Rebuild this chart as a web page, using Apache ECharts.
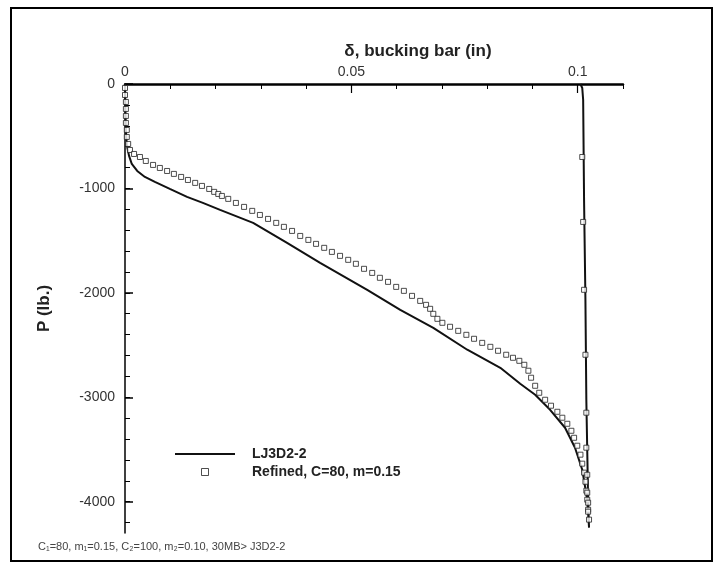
<!DOCTYPE html>
<html>
<head>
<meta charset="utf-8">
<script src="https://cdn.jsdelivr.net/npm/echarts@6/dist/echarts.min.js"></script>
<style>
html,body{margin:0;padding:0;background:#fff;}
#chart{width:721px;height:569px;}
</style>
</head>
<body>
<div id="chart"></div>
<script>
// Tick labels
var xTickLabels = [0, 0.05, 0.1];
var yTickLabels = [-4000, -3000, -2000, -1000, 0];
var yMinorTicks = [-4200, -4000, -3800, -3600, -3400, -3200, -3000, -2800, -2600, -2400, -2200, -2000, -1800, -1600, -1400, -1200, -1000, -800, -600, -400, -200, 0];

// LJ3D2-2 (solid line): displacement (in), load (lb)
var solidX = [0, 0.0001, 0.0002, 0.0004, 0.0009, 0.0015, 0.0027, 0.0044, 0.0066, 0.0099, 0.0137, 0.0172, 0.0210, 0.0283, 0.0358, 0.0431, 0.0535, 0.0608, 0.0681, 0.0756, 0.0829, 0.0873, 0.0906, 0.0939, 0.0972, 0.0994, 0.1010, 0.1021, 0.1025,
              0.1023, 0.1019, 0.1017, 0.1014, 0.1012, 0.1010, 0.1006];
var solidY = [0, -249, -440, -584, -689, -766, -833, -890, -938, -1005, -1081, -1139, -1206, -1330, -1522, -1713, -1971, -2163, -2335, -2545, -2718, -2871, -2976, -3120, -3292, -3483, -3694, -3981, -4249,
              -3981, -3024, -2067, -1110, -153, -38, 0];

// Refined, C=80, m=0.15 (square markers)
var refinedX = [0, 0, 0.0002, 0.0002, 0.0002, 0.0002, 0.0004, 0.0004, 0.0007, 0.0011, 0.0020, 0.0033, 0.0046, 0.0062, 0.0077, 0.0093, 0.0108, 0.0124, 0.0139, 0.0155, 0.0170, 0.0186, 0.0197, 0.0206, 0.0214, 0.0228, 0.0245, 0.0263, 0.0281, 0.0298, 0.0316, 0.0334, 0.0351, 0.0369, 0.0387, 0.0405, 0.0422, 0.0440, 0.0457, 0.0475, 0.0493, 0.0510, 0.0528, 0.0546, 0.0563, 0.0581, 0.0599, 0.0616, 0.0634, 0.0652, 0.0665, 0.0674, 0.0681, 0.0690, 0.0701, 0.0718, 0.0736, 0.0754, 0.0771, 0.0789, 0.0807, 0.0824, 0.0842, 0.0857, 0.0871, 0.0882, 0.0891, 0.0897, 0.0906, 0.0915, 0.0928, 0.0941, 0.0955, 0.0966, 0.0977, 0.0986, 0.0992, 0.0999, 0.1006, 0.1010, 0.1014, 0.1017, 0.1019, 0.1021, 0.1023, 0.1025,
                0.1023, 0.1023, 0.1021, 0.1021, 0.1019, 0.1019, 0.1017, 0.1014, 0.1012, 0.1010];
var refinedY = [-38, -105, -172, -239, -306, -373, -440, -507, -574, -632, -670, -699, -737, -775, -804, -833, -861, -890, -919, -947, -976, -1005, -1033, -1053, -1072, -1100, -1139, -1177, -1215, -1254, -1292, -1330, -1368, -1407, -1455, -1493, -1531, -1569, -1608, -1646, -1684, -1722, -1770, -1809, -1856, -1895, -1943, -1981, -2029, -2077, -2115, -2153, -2201, -2249, -2287, -2325, -2364, -2402, -2440, -2479, -2517, -2555, -2593, -2622, -2651, -2689, -2746, -2813, -2890, -2957, -3024, -3081, -3139, -3196, -3254, -3321, -3388, -3464, -3550, -3636, -3722, -3809, -3895, -3981, -4077, -4172,
                -4096, -4010, -3914, -3742, -3483, -3148, -2593, -1971, -1321, -699];

function zip(a, b) { var r = []; for (var i = 0; i < a.length; i++) r.push([a[i], b[i]]); return r; }

var chart = echarts.init(document.getElementById('chart'), null, {renderer: 'canvas'});
var font = '"Liberation Sans", Arial, Helvetica, sans-serif';
var option = {
  animation: false,
  backgroundColor: '#fff',
  grid: {left: 125, top: 84, width: 498, height: 449, containLabel: false, outerBoundsMode: 'none'},
  legend: {
    left: 170, top: 442, orient: 'vertical',
    itemWidth: 60, itemHeight: 7, itemGap: 4,
    symbolKeepAspect: true,
    textStyle: {fontFamily: font, fontSize: 14, fontWeight: 'bold', color: '#222', padding: [0, 0, 0, 12]},
    data: [
      {name: 'LJ3D2-2', icon: 'path://M0,0H60V2H0Z', itemStyle: {color: '#111', borderWidth: 0}},
      {name: 'Refined, C=80, m=0.15', icon: 'path://M0,0H10V10H0Z', itemStyle: {color: '#fff', borderColor: '#222', borderWidth: 1}}
    ]
  },
  xAxis: [{
    type: 'value', position: 'top', min: 0, max: 0.11, interval: 0.01,
    name: 'δ, bucking bar (in)', nameLocation: 'middle', nameGap: 24,
    nameTextStyle: {fontFamily: font, fontSize: 17, fontWeight: 'bold', color: '#222', padding: [0, 0, 0, 88]},
    axisLine: {show: true, onZero: false, lineStyle: {color: '#000', width: 2.5}},
    axisTick: {show: true, inside: true, length: 5, lineStyle: {color: '#000', width: 1}},
    axisLabel: {show: true, customValues: xTickLabels, margin: 5, fontFamily: font, fontSize: 14, color: '#333',
      formatter: function (v) { return String(v); }},
    splitLine: {show: false}
  }, {
    type: 'value', position: 'top', min: 0, max: 0.11,
    axisLine: {show: false, onZero: false},
    axisTick: {show: true, inside: true, length: 9, customValues: [0.05, 0.1], lineStyle: {color: '#000', width: 1.2}},
    axisLabel: {show: false},
    splitLine: {show: false}
  }],
  yAxis: [{
    type: 'value', min: -4300, max: 0,
    name: 'P (lb.)', nameLocation: 'middle', nameGap: 72, nameRotate: 90,
    nameTextStyle: {fontFamily: font, fontSize: 17, fontWeight: 'bold', color: '#222'},
    axisLine: {show: true, onZero: false, lineStyle: {color: '#000', width: 1.5}},
    axisTick: {show: true, inside: true, length: 5, customValues: yMinorTicks, lineStyle: {color: '#000', width: 1}},
    axisLabel: {show: true, customValues: yTickLabels, margin: 10, fontFamily: font, fontSize: 14, color: '#333',
      formatter: function (v) { return String(v); }},
    splitLine: {show: false}
  }, {
    type: 'value', position: 'left', min: -4300, max: 0,
    axisLine: {show: false, onZero: false},
    axisTick: {show: true, inside: true, length: 8, customValues: yTickLabels, lineStyle: {color: '#000', width: 1.5}},
    axisLabel: {show: false},
    splitLine: {show: false}
  }],
  series: [
    {
      name: 'LJ3D2-2', type: 'line', data: zip(solidX, solidY),
      showSymbol: false, symbol: 'none', smooth: false, z: 2,
      lineStyle: {color: '#111', width: 2},
      itemStyle: {color: '#111'}
    },
    {
      name: 'Refined, C=80, m=0.15', type: 'scatter', data: zip(refinedX, refinedY),
      symbol: 'rect', symbolSize: 5, z: 3,
      itemStyle: {color: '#fff', borderColor: '#222', borderWidth: 1}
    }
  ],
  graphic: [
    {type: 'rect', shape: {x: 11, y: 8, width: 701, height: 553}, style: {fill: 'none', stroke: '#000', lineWidth: 2}, silent: true},
    {type: 'text', left: 38, top: 541, style: {text: 'C₁=80, m₁=0.15, C₂=100, m₂=0.10, 30MB> J3D2-2', fontFamily: font, fontSize: 11, fill: '#444'}}
  ]
};
chart.setOption(option);
</script>
</body>
</html>
